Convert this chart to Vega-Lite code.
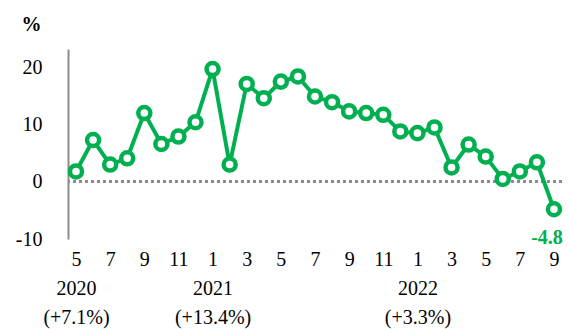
{
  "$schema": "https://vega.github.io/schema/vega-lite/v6.json",
  "autosize": {"type": "none"},
  "padding": {"left": 68, "top": 49, "right": 7, "bottom": 90},
  "width": 494,
  "height": 190,
  "background": "white",
  "config": {"view": {"stroke": null}, "font": "'Liberation Serif', 'DejaVu Serif', serif"},
  "data": {"values": [
    {"ym": "2020-05", "v": 1.8}, {"ym": "2020-06", "v": 7.3}, {"ym": "2020-07", "v": 3.0}, {"ym": "2020-08", "v": 4.1},
    {"ym": "2020-09", "v": 12.0}, {"ym": "2020-10", "v": 6.6}, {"ym": "2020-11", "v": 7.9}, {"ym": "2020-12", "v": 10.4},
    {"ym": "2021-01", "v": 19.7}, {"ym": "2021-02", "v": 3.0}, {"ym": "2021-03", "v": 17.1}, {"ym": "2021-04", "v": 14.6},
    {"ym": "2021-05", "v": 17.5}, {"ym": "2021-06", "v": 18.4}, {"ym": "2021-07", "v": 14.9}, {"ym": "2021-08", "v": 13.9},
    {"ym": "2021-09", "v": 12.3}, {"ym": "2021-10", "v": 12.0}, {"ym": "2021-11", "v": 11.7}, {"ym": "2021-12", "v": 8.8},
    {"ym": "2022-01", "v": 8.5}, {"ym": "2022-02", "v": 9.5}, {"ym": "2022-03", "v": 2.5}, {"ym": "2022-04", "v": 6.5},
    {"ym": "2022-05", "v": 4.4}, {"ym": "2022-06", "v": 0.5}, {"ym": "2022-07", "v": 1.8}, {"ym": "2022-08", "v": 3.4},
    {"ym": "2022-09", "v": -4.8}
  ]},
  "encoding": {
    "x": {
      "field": "ym", "type": "ordinal", "sort": null,
      "scale": {"type": "point", "padding": 0.47},
      "axis": {
        "domain": false, "ticks": false, "grid": false, "title": null,
        "labelAngle": 0, "labelFont": "'Liberation Serif', 'DejaVu Serif', serif", "labelFontSize": 20, "labelColor": "#000000",
        "labelPadding": 10, "labelLineHeight": 29, "labelOverlap": false, "labelBaseline": "top",
        "labelExpr": "datum.value == '2020-05' ? ['5', '2020', '(+7.1%)'] : datum.value == '2021-01' ? ['1', '2021', '(+13.4%)'] : datum.value == '2022-01' ? ['1', '2022', '(+3.3%)'] : (toNumber(substring(datum.value, 5, 7)) % 2 == 1 ? '' + toNumber(substring(datum.value, 5, 7)) : '')"
      }
    },
    "y": {
      "field": "v", "type": "quantitative",
      "scale": {"domain": [-10, 23.2], "nice": false, "zero": false},
      "axis": {
        "values": [-10, 0, 10, 20], "grid": false, "ticks": false,
        "domain": true, "domainColor": "#8c8c8c", "domainWidth": 2,
        "labelExpr": "'' + datum.value",
        "labelFont": "'Liberation Serif', 'DejaVu Serif', serif", "labelFontSize": 20, "labelColor": "#000000", "labelPadding": 26,
        "title": "%", "titleAngle": 0, "titleFont": "'Liberation Serif', 'DejaVu Serif', serif", "titleFontSize": 20, "titleFontWeight": "bold",
        "titleColor": "#000000", "titleX": -37, "titleY": -25, "titleAlign": "center", "titleBaseline": "middle"
      }
    }
  },
  "layer": [
    {
      "mark": {"type": "rule", "color": "#8c8c8c", "strokeWidth": 2.5, "strokeDash": [3, 3]},
      "encoding": {"y": {"datum": 0}, "x": null}
    },
    {
      "mark": {"type": "line", "color": "#00B050", "strokeWidth": 4}
    },
    {
      "mark": {"type": "point", "shape": "circle", "filled": true, "fill": "white", "stroke": "#00B050", "strokeWidth": 4.5, "size": 145, "opacity": 1}
    },
    {
      "transform": [{"filter": "datum.ym == '2022-09'"}, {"calculate": "'' + datum.v", "as": "lbl"}],
      "mark": {"type": "text", "color": "#00B050", "fontWeight": "bold", "fontSize": 20, "font": "'Liberation Serif', 'DejaVu Serif', serif", "dx": -7, "dy": 29, "align": "center", "baseline": "middle"},
      "encoding": {"text": {"field": "lbl", "type": "nominal"}}
    }
  ]
}
